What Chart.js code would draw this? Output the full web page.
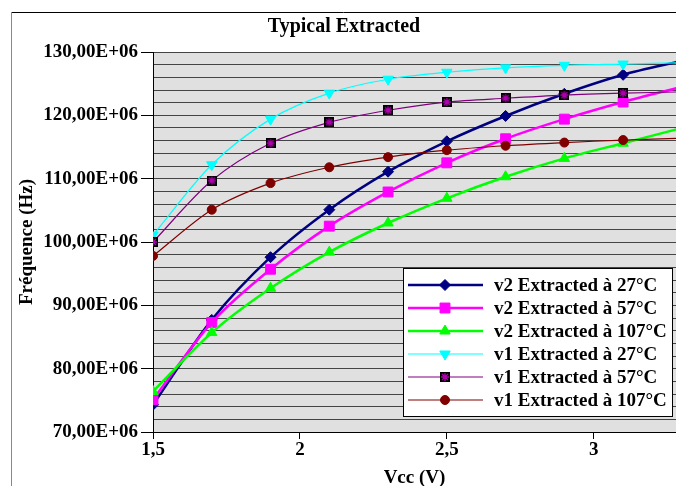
<!DOCTYPE html>
<html>
<head>
<meta charset="utf-8">
<script src="https://cdn.jsdelivr.net/npm/chart.js@4"></script>
<style>
    html, body { margin: 0; padding: 0; background: #fff; }
    #wrap { width: 676px; height: 486px; }
</style>
</head>
<body>
<div id="wrap"><canvas id="freqChart" width="676" height="486"></canvas></div>
<script>
// Vcc (V) on x, frequency (Hz) on y
const vcc = [1.5, 1.7, 1.9, 2.1, 2.3, 2.5, 2.7, 2.9, 3.1, 3.3];

const v2At27 = [74.3e6, 87.7e6, 97.6e6, 105.1e6, 111.1e6, 115.9e6, 119.9e6, 123.4e6, 126.4e6, 128.6e6];
const v2At57 = [75.1e6, 87.3e6, 95.7e6, 102.5e6, 107.9e6, 112.5e6, 116.3e6, 119.4e6, 122.1e6, 124.5e6];
const v2At107 = [76.4e6, 85.7e6, 92.7e6, 98.4e6, 103.0e6, 106.9e6, 110.3e6, 113.2e6, 115.6e6, 118.0e6];
const v1At27 = [101.1e6, 112.2e6, 119.4e6, 123.5e6, 125.7e6, 126.8e6, 127.5e6, 127.9e6, 128.1e6, 128.3e6];
const v1At57 = [100.0e6, 109.7e6, 115.6e6, 118.9e6, 120.8e6, 122.1e6, 122.7e6, 123.2e6, 123.5e6, 123.7e6];
const v1At107 = [97.8e6, 105.1e6, 109.3e6, 111.8e6, 113.4e6, 114.5e6, 115.2e6, 115.7e6, 116.1e6, 116.4e6];

const seriesNames = [
    "v2 Extracted à 27°C",
    "v2 Extracted à 57°C",
    "v2 Extracted à 107°C",
    "v1 Extracted à 27°C",
    "v1 Extracted à 57°C",
    "v1 Extracted à 107°C"
];

const xTicks = [1.5, 2, 2.5, 3];
const xTickLabels = ["1,5", "2", "2,5", "3"];
const yTicks = [70e6, 80e6, 90e6, 100e6, 110e6, 120e6, 130e6];
const yTickLabels = ["70,00E+06", "80,00E+06", "90,00E+06", "100,00E+06", "110,00E+06", "120,00E+06", "130,00E+06"];

const FONT = "'Liberation Serif', 'Times New Roman', serif";

// black square with a purple asterisk, like the excel marker
function starSquare() {
    const c = document.createElement("canvas");
    c.width = 10;
    c.height = 10;
    const g = c.getContext("2d");
    g.fillStyle = "#000";
    g.fillRect(0, 0, 10, 10);
    g.strokeStyle = "#b000b0";
    g.lineWidth = 1.3;
    g.beginPath();
    g.moveTo(5, 1); g.lineTo(5, 9);
    g.moveTo(1, 5); g.lineTo(9, 5);
    g.moveTo(2, 2); g.lineTo(8, 8);
    g.moveTo(8, 2); g.lineTo(2, 8);
    g.stroke();
    return c;
}

function toPoints(values) {
    return values.map((v, i) => ({ x: vcc[i], y: v }));
}

function makeSet(i, values, color, width, style, radius, rotation) {
    return {
        label: seriesNames[i],
        data: toPoints(values),
        borderColor: color,
        backgroundColor: color,
        borderWidth: width,
        pointStyle: style,
        pointRadius: radius,
        pointRotation: rotation,
        pointBorderColor: color,
        pointBackgroundColor: color,
        pointBorderWidth: 1,
        tension: 0.3,
        order: 6 - i
    };
}

const datasets = [
    makeSet(0, v2At27, "#000080", 2.5, "rectRot", 5.5, 0),
    makeSet(1, v2At57, "#ff00ff", 2.5, "rect", 7, 0),
    makeSet(2, v2At107, "#00ff00", 2.5, "triangle", 6, 0),
    makeSet(3, v1At27, "#00ffff", 1.2, "triangle", 6, 180),
    makeSet(4, v1At57, "#800080", 1.2, starSquare(), 5, 0),
    makeSet(5, v1At107, "#800000", 1.2, "circle", 4.5, 0)
];

const framePlugin = {
    id: "frame",
    beforeDraw(chart) {
        const ctx = chart.ctx;
        const a = chart.chartArea;
        ctx.save();
        ctx.lineWidth = 1;
        ctx.strokeStyle = "#000";
        ctx.beginPath();
        ctx.moveTo(11, 12.5);
        ctx.lineTo(chart.width, 12.5);
        ctx.stroke();
        ctx.strokeStyle = "#888";
        ctx.beginPath();
        ctx.moveTo(11.5, 12);
        ctx.lineTo(11.5, chart.height);
        ctx.stroke();
        ctx.fillStyle = "#e0e0e0";
        ctx.fillRect(a.left, a.top, a.right - a.left, a.bottom - a.top);
        ctx.restore();
    }
};

const legendPlugin = {
    id: "boxLegend",
    afterDraw(chart) {
        const ctx = chart.ctx;
        const box = { x: 403.5, y: 268.5, w: 269, h: 148 };
        ctx.save();
        ctx.fillStyle = "#fff";
        ctx.fillRect(box.x, box.y, box.w, box.h);
        ctx.strokeStyle = "#000";
        ctx.lineWidth = 1;
        ctx.strokeRect(box.x, box.y, box.w, box.h);
        ctx.font = "bold 19px " + FONT;
        ctx.textBaseline = "middle";
        chart.data.datasets.forEach((ds, i) => {
            const y = 285 + i * 23;
            ctx.strokeStyle = ds.borderColor;
            ctx.lineWidth = ds.borderWidth;
            ctx.beginPath();
            ctx.moveTo(408, y);
            ctx.lineTo(483, y);
            ctx.stroke();
            ctx.fillStyle = ds.pointBackgroundColor;
            ctx.strokeStyle = ds.pointBorderColor;
            ctx.lineWidth = 1;
            Chart.helpers.drawPoint(ctx, {
                pointStyle: ds.pointStyle,
                radius: ds.pointRadius,
                rotation: ds.pointRotation,
                borderWidth: 1
            }, 445, y);
            ctx.fillStyle = "#000";
            ctx.fillText(ds.label, 494, y + 1);
        });
        ctx.restore();
    }
};

new Chart(document.getElementById("freqChart"), {
    type: "line",
    data: { datasets: datasets },
    options: {
        responsive: false,
        animation: false,
        layout: { autoPadding: false, padding: { left: 12, right: 0, top: 0, bottom: 0 } },
        plugins: {
            legend: { display: false },
            tooltip: { enabled: false },
            title: {
                display: true,
                text: "Typical Extracted",
                color: "#000",
                font: { family: FONT, size: 20, weight: "bold" },
                padding: { top: 15, bottom: 13 }
            }
        },
        scales: {
            x: {
                type: "linear",
                min: 1.5,
                max: 3.28,
                afterBuildTicks: (scale) => {
                    scale.ticks = xTicks.map(v => ({ value: v }));
                },
                afterFit: (scale) => {
                    scale.height = 54;
                    scale.paddingRight = 0;
                    scale.paddingLeft = 0;
                },
                ticks: {
                    color: "#000",
                    font: { family: FONT, size: 19, weight: "bold" },
                    padding: 0,
                    maxRotation: 0,
                    autoSkip: false,
                    callback: (value) => {
                        const k = xTicks.indexOf(value);
                        return k < 0 ? "" : xTickLabels[k];
                    }
                },
                grid: {
                    drawOnChartArea: false,
                    drawTicks: true,
                    tickLength: 7,
                    tickColor: "#000"
                },
                border: { display: true, color: "#000", width: 1 },
                title: {
                    display: true,
                    text: "Vcc (V)",
                    color: "#000",
                    font: { family: FONT, size: 19, weight: "bold" },
                    padding: { top: 0, bottom: -3 }
                }
            },
            y: {
                type: "linear",
                min: 70e6,
                max: 130e6,
                afterFit: (scale) => { scale.width = 141; },
                ticks: {
                    stepSize: 2e6,
                    autoSkip: false,
                    color: "#000",
                    font: { family: FONT, size: 19, weight: "bold" },
                    padding: 3,
                    callback: (value) => {
                        const k = yTicks.indexOf(value);
                        return k < 0 ? "" : yTickLabels[k];
                    }
                },
                grid: {
                    color: "#444",
                    lineWidth: 1,
                    tickLength: 12,
                    tickColor: (c) => yTicks.indexOf(c.tick.value) < 0 ? "rgba(0,0,0,0)" : "#000"
                },
                border: { display: true, color: "#000", width: 1 },
                title: {
                    display: true,
                    text: "Fréquence (Hz)",
                    color: "#000",
                    font: { family: FONT, size: 19, weight: "bold" },
                    padding: { top: 4, bottom: 0 }
                }
            }
        }
    },
    plugins: [framePlugin, legendPlugin]
});
</script>
</body>
</html>
